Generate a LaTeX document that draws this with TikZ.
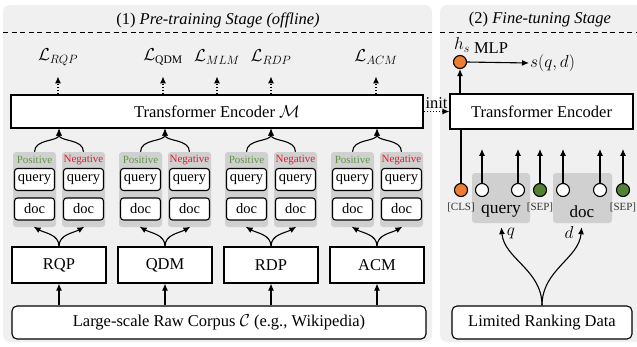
\documentclass[tikz,border=0pt]{standalone}
\usepackage{fontspec}
\setmainfont{Liberation Serif}
\usetikzlibrary{arrows.meta,calc}
\definecolor{panelbg}{RGB}{240,240,240}
\definecolor{graybox}{RGB}{208,208,208}
\definecolor{posgreen}{RGB}{96,150,70}
\definecolor{negred}{RGB}{220,30,40}
\definecolor{corange}{RGB}{237,125,49}
\definecolor{cgreen}{RGB}{84,130,53}
\begin{document}
\begin{tikzpicture}[x=1pt,y=-1pt,
  every node/.style={font=\fontsize{16.5}{18}\selectfont},
  panel/.style={fill=panelbg, draw=none, rounded corners=7pt},
  box/.style={draw, line width=1.1pt, fill=white, inner sep=0pt},
  rbox/.style={box, rounded corners=5pt},
  sbox/.style={draw, line width=1.1pt, fill=white, rounded corners=3pt, minimum width=40pt, minimum height=22pt, inner sep=0pt, font=\fontsize{14.5}{16}\selectfont},
  gbox/.style={fill=graybox, rounded corners=3pt, minimum width=43pt, minimum height=75pt, inner sep=0pt},
  smalltxt/.style={font=\fontsize{11}{12}\selectfont, inner sep=0pt},
  arr/.style={line width=1.1pt, -{Latex[length=7pt,width=6pt]}},
  darr/.style={arr, dotted},
  tok/.style={circle, draw, line width=1.1pt, minimum size=13pt, inner sep=0pt},
  dashline/.style={line width=1pt, dash pattern=on 5pt off 3.5pt}]
\useasboundingbox (0,0) rectangle (637,346);
\clip (0,0) rectangle (637,346);
% panels
\fill[panel] (3,5) rectangle (432,342);
\fill[panel] (440,5) rectangle (645,342);
\node (t1title) at (218,20) {(1) \textit{Pre-training Stage (offline)}};
\node (t2title) at (540,20) {(2) \textit{Fine-tuning Stage}};
\draw[dashline] (3,32) -- (432,32);
\draw[dashline] (440,32) -- (637,32);
% pre-training encoder
\node[box, minimum width=412pt, minimum height=33pt] (encM) at (217,111.5) {Transformer Encoder $\mathcal{M}$};
% losses
\node (l1) at (58,57) {$\mathcal{L}_{RQP}$};
\node (l2) at (163,57) {$\mathcal{L}_{\mathrm{QDM}}$};
\node (l3) at (217,57) {$\mathcal{L}_{MLM}$};
\node (l4) at (271,57) {$\mathcal{L}_{RDP}$};
\node (l5) at (376,57) {$\mathcal{L}_{ACM}$};
\foreach \i in {1,...,5} {
  \draw[darr] (encM.north -| l\i) -- ++(0,-18);
}
% corpus
\node[rbox, minimum width=414pt, minimum height=33pt] (corpus) at (219,322.5) {Large-scale Raw Corpus $\mathcal{C}$ (e.g., Wikipedia)};
% groups
\foreach \c/\t/\i in {59/RQP/1,165/QDM/2,271/RDP/3,377/ACM/4} {
  \node[gbox] (p\i) at (\c-24.5,189.5) {};
  \node[gbox] (n\i) at (\c+24.5,189.5) {};
  \node[smalltxt, text=posgreen] (lp\i) at (\c-24.5,160) {Positive};
  \node[smalltxt, text=negred] (ln\i) at (\c+24.5,160) {Negative};
  \node[sbox] (pq\i) at (\c-24.5,179.5) {query};
  \node[sbox] (nq\i) at (\c+24.5,179.5) {query};
  \node[sbox] (pd\i) at (\c-24.5,209) {doc};
  \node[sbox] (nd\i) at (\c+24.5,209) {doc};
  \node[box, minimum width=94pt, minimum height=36pt] (t\i) at (\c,265) {\t};
  \draw[arr] (corpus.north -| t\i) -- (t\i.south);
  \draw[arr, shorten >=-1pt] (t\i.north) to[out=90,in=-30] (p\i.south);
  \draw[arr, shorten >=-1pt] (t\i.north) to[out=90,in=-150] (n\i.south);
  \draw[arr] (p\i.north) to[out=90,in=-90] (encM.south -| t\i);
  \draw[arr] (n\i.north) to[out=90,in=-90] (encM.south -| t\i);
}
% fine-tuning
\node[box, minimum width=183pt, minimum height=35pt] (encF) at (541.5,111.5) {Transformer Encoder};
\draw[darr] (encM.east) -- node[above, inner sep=1pt, yshift=1pt] (init) {init} (encF.west);
\node[tok, fill=corange] (hs) at (460,62) {};
\node[inner sep=0pt] (hslab) at (462,45) {$h_s$};
\node[inner sep=0pt] (mlp) at (491,48) {MLP};
\node[inner sep=1pt, anchor=west] (sqd) at (529,63) {$s(q,d)$};
\draw[arr] (encF.north -| hs) -- (hs.south);
\draw[arr] (hs.east) -- (sqd.west);
% input gray boxes
\node[fill=graybox, rounded corners=3pt, minimum width=58pt, minimum height=50pt, inner sep=0pt] (qbox) at (501,198) {};
\node[fill=graybox, rounded corners=3pt, minimum width=59pt, minimum height=50pt, inner sep=0pt] (dbox) at (582.5,198) {};
\node[inner sep=0pt, font=\fontsize{17.5}{19}\selectfont] (qtxt) at (501,211) {query};
\node[inner sep=0pt, font=\fontsize{17}{19}\selectfont] (dtxt) at (582,212) {doc};
% tokens
\node[tok, fill=corange] (cls) at (461,190) {};
\node[tok, fill=white] (w1) at (482,190) {};
\node[tok, fill=white] (w2) at (518,190) {};
\node[tok, fill=cgreen] (s1) at (540,190) {};
\node[tok, fill=white] (w3) at (563,190) {};
\node[tok, fill=white] (w4) at (600,190) {};
\node[tok, fill=cgreen] (s2) at (623,190) {};
\draw[line width=1.1pt] (encF.south -| cls) -- (cls.north);
\foreach \n in {w1,w2,s1,w3,w4,s2} {
  \draw[arr] (\n.north) -- ++(0,-34);
}
\node[smalltxt, text=black!80] (clslab) at (461,207) {[CLS]};
\node[smalltxt, text=black!80] (sep1) at (540,207) {[SEP]};
\node[smalltxt, text=black!80] (sep2) at (623,207) {[SEP]};
% limited ranking data
\node[rbox, minimum width=180pt, minimum height=33pt] (lrd) at (542,322.5) {Limited Ranking Data};
\draw[arr, shorten >=4pt] (lrd.north) to[out=90,in=-85] (qbox.south);
\draw[arr, shorten >=4pt] (lrd.north) to[out=90,in=-95] (dbox.south -| dtxt);
\node[inner sep=0pt] (qlab) at (511,233) {$q$};
\node[inner sep=0pt] (dlab) at (569,232) {$d$};
\end{tikzpicture}
\end{document}
